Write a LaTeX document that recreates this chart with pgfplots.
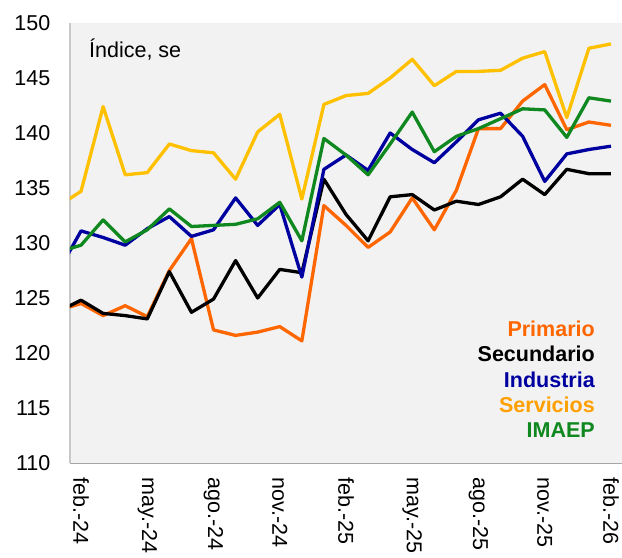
\documentclass[border=0pt]{standalone}
\usepackage{pgfplots}
\pgfplotsset{compat=1.18}
\usepackage{pgfplotstable}
\usepackage{fontspec}
\setmainfont{Liberation Sans}
\definecolor{cP}{RGB}{255,102,0}
\definecolor{cS}{RGB}{0,0,0}
\definecolor{cI}{RGB}{0,0,160}
\definecolor{cSv}{RGB}{255,192,0}
\definecolor{cSvT}{RGB}{255,160,0}
\definecolor{cG}{RGB}{16,136,32}
\definecolor{bg}{RGB}{242,242,242}
\definecolor{axb}{RGB}{166,166,166}
\definecolor{ayb}{RGB}{200,200,200}
\newcommand\cf{\fontsize{21.5bp}{25bp}\selectfont}

\pgfplotstableread{
i P S I Sv G
-1 123.9 123.8 127.5 133.4 129.2
0 124.5 124.8 131.1 134.7 129.8
1 123.4 123.6 130.5 142.4 132.1
2 124.3 123.4 129.8 136.2 130.1
3 123.3 123.1 131.3 136.4 131.2
4 127.5 127.4 132.4 139.0 133.1
5 130.4 123.7 130.6 138.4 131.5
6 122.1 124.9 131.2 138.2 131.6
7 121.6 128.4 134.1 135.8 131.7
8 121.9 125.0 131.6 140.1 132.2
9 122.4 127.6 133.5 141.7 133.7
10 121.1 127.3 126.9 134.0 130.2
11 133.4 135.8 136.7 142.6 139.5
12 131.6 132.6 138.0 143.4 138.0
13 129.6 130.2 136.6 143.6 136.2
14 131.0 134.2 140.0 145.0 139.0
15 134.1 134.4 138.5 146.7 141.9
16 131.2 133.0 137.3 144.3 138.3
17 134.8 133.8 139.2 145.6 139.7
18 140.4 133.5 141.2 145.6 140.4
19 140.4 134.2 141.8 145.7 141.3
20 142.9 135.8 139.7 146.8 142.2
21 144.4 134.4 135.6 147.4 142.1
22 140.3 136.7 138.1 141.4 139.6
23 141.0 136.3 138.5 147.7 143.2
24 140.7 136.3 138.8 148.1 142.9
}\data

\begin{document}
\begin{tikzpicture}
\path[use as bounding box] (-70bp,-95bp) rectangle (552bp,463bp);
\begin{axis}[
  at={(0,0)}, anchor=south west,
  scale only axis, width=552bp, height=440bp,
  xmin=-0.5, xmax=24.5, ymin=110, ymax=150,
  axis background/.style={fill=bg},
  axis x line=bottom, axis y line=left,
  axis line style={-},
  x axis line style={draw=axb, line width=1bp},
  y axis line style={draw=ayb, line width=1.2bp},
  xtick={0,3,...,24},
  xticklabels={feb.-24,may.-24,ago.-24,nov.-24,feb.-25,may.-25,ago.-25,nov.-25,feb.-26},
  ytick={110,115,...,150},
  major tick length=0pt,
  tick label style={font=\cf},
  /pgf/number format/assume math mode=true,
  xticklabel style={rotate=-90, anchor=west, inner sep=0pt},
  xticklabel shift=14bp,
  yticklabel style={anchor=east, inner sep=0pt},
  yticklabel shift=19.5bp,
  clip=true,
  every axis plot/.append style={line width=3.3bp, line join=round, no markers},
]
\addplot[cP] table[x=i,y=P]{\data};
\addplot[cS] table[x=i,y=S]{\data};
\addplot[cI] table[x=i,y=I]{\data};
\addplot[cSv] table[x=i,y=Sv]{\data};
\addplot[cG] table[x=i,y=G]{\data};
\node[anchor=base west, inner sep=0pt, font=\cf] at (rel axis cs:0.0344,0.9227) {Índice, se};
\node[anchor=base east, inner sep=0pt, font=\cf\bfseries, text=cP] at (rel axis cs:0.951,0.2886) {Primario};
\node[anchor=base east, inner sep=0pt, font=\cf\bfseries, text=cS] at (rel axis cs:0.951,0.2302) {Secundario};
\node[anchor=base east, inner sep=0pt, font=\cf\bfseries, text=cI] at (rel axis cs:0.951,0.172) {Industria};
\node[anchor=base east, inner sep=0pt, font=\cf\bfseries, text=cSvT] at (rel axis cs:0.951,0.1143) {Servicios};
\node[anchor=base east, inner sep=0pt, font=\cf\bfseries, text=cG] at (rel axis cs:0.951,0.0575) {IMAEP};
\end{axis}
\end{tikzpicture}
\end{document}
